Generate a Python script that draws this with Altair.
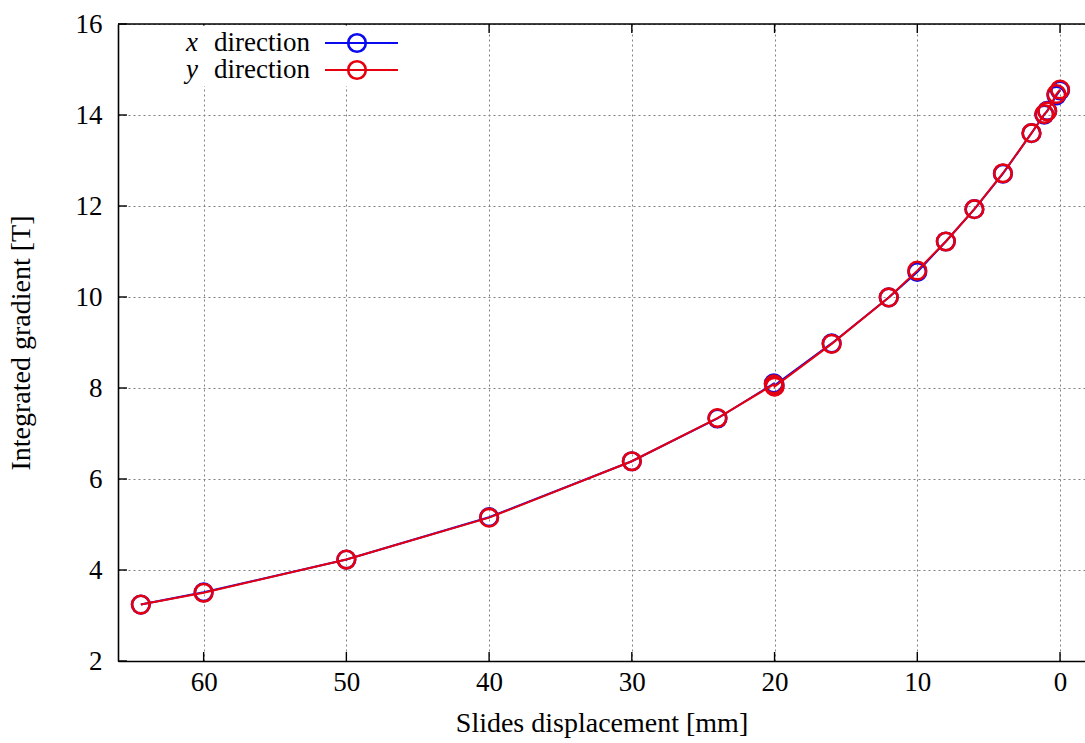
import altair as alt
import pandas as pd

# Slide displacement in mm, in measurement order
displacement = [64.4, 60.0, 50.0, 40.0, 30.0, 24.0, 20.05, 20.0, 16.0, 12.0,
                10.0, 8.0, 6.0, 4.0, 2.0, 1.1, 0.9, 0.25, 0.0]
# Integrated gradient [T] along x and y
grad_x = [3.24, 3.51, 4.23, 5.16, 6.39, 7.33, 8.10, 8.06, 8.98, 9.99,
          10.55, 11.22, 11.93, 12.71, 13.60, 14.01, 14.09, 14.43, 14.54]
grad_y = [3.24, 3.50, 4.23, 5.15, 6.39, 7.34, 8.08, 8.03, 8.97, 9.99,
          10.58, 11.22, 11.93, 12.72, 13.60, 14.02, 14.08, 14.46, 14.56]

x_ticks = [60, 50, 40, 30, 20, 10, 0]
y_ticks = [2, 4, 6, 8, 10, 12, 14, 16]

BLUE = "#0a0aee"
RED = "#e6000f"
FONT = "Liberation Serif"
W, H = 967, 637
TICK = 9

df = pd.DataFrame({
    "idx": list(range(len(displacement))),
    "d": displacement,
    "gx": grad_x,
    "gy": grad_y,
})

xscale = alt.Scale(domain=[66, -1.75], nice=False, zero=False)
yscale = alt.Scale(domain=[2, 16], nice=False, zero=False)

xaxis = alt.Axis(values=x_ticks, format="d", grid=True, gridDash=[2, 3],
                 gridColor="#808080", gridWidth=1, ticks=False,
                 domainColor="black", domainWidth=1.6,
                 labelFont=FONT, labelFontSize=27, labelColor="black",
                 labelPadding=8, title="Slides displacement [mm]",
                 titleFont=FONT, titleFontSize=28, titleFontWeight="normal",
                 titleColor="black", titlePadding=14)
yaxis = alt.Axis(values=y_ticks, format="d", grid=True, gridDash=[2, 3],
                 gridColor="#808080", gridWidth=1, ticks=False,
                 domainColor="black", domainWidth=1.6,
                 labelFont=FONT, labelFontSize=27, labelColor="black",
                 labelPadding=16, title="Integrated gradient [T]",
                 titleFont=FONT, titleFontSize=28, titleFontWeight="normal",
                 titleColor="black", titlePadding=40)


def X(field):
    return alt.X(field, scale=xscale, axis=xaxis)


def Y(field):
    return alt.Y(field, scale=yscale, axis=yaxis)


base = alt.Chart(df)

blue_line = base.mark_line(color=BLUE, strokeWidth=2).encode(
    x=X("d:Q"), y=Y("gx:Q"), order="idx:Q")
blue_pts = base.mark_point(shape="circle", filled=False, color=BLUE,
                           size=310, strokeWidth=2.6, opacity=1).encode(
    x=X("d:Q"), y=Y("gx:Q"))
red_line = base.mark_line(color=RED, strokeWidth=2).encode(
    x=X("d:Q"), y=Y("gy:Q"), order="idx:Q")
red_pts = base.mark_point(shape="circle", filled=False, color=RED,
                          size=310, strokeWidth=2.6, opacity=1).encode(
    x=X("d:Q"), y=Y("gy:Q"))

# Inward tick marks on the bottom, top and left borders
xt = alt.Chart(pd.DataFrame({"t": x_ticks}))
yt = alt.Chart(pd.DataFrame({"t": y_ticks}))
bottom_ticks = xt.mark_rule(color="black", strokeWidth=1.4).encode(
    x=X("t:Q"), y=alt.value(H), y2=alt.value(H - TICK))
top_ticks = xt.mark_rule(color="black", strokeWidth=1.4).encode(
    x=X("t:Q"), y=alt.value(0), y2=alt.value(TICK))
left_ticks = yt.mark_rule(color="black", strokeWidth=1.4).encode(
    y=Y("t:Q"), x=alt.value(0), x2=alt.value(TICK))
top_border = alt.Chart(pd.DataFrame({"a": [0]})).mark_rule(
    color="black", strokeWidth=1.6).encode(
    x=alt.value(0), x2=alt.value(W), y=alt.value(0))

# Key in the upper left corner, on an opaque background
key_bg = alt.Chart(pd.DataFrame({"a": [0]})).mark_rect(color="white").encode(
    x=alt.value(50), x2=alt.value(290), y=alt.value(1.5), y2=alt.value(62))
key = pd.DataFrame({
    "sym": ["x", "y"],
    "py": [19, 46],
    "c": [BLUE, RED],
    "x0": [207, 207],
    "x1": [280, 280],
    "xm": [239, 239],
})
kc = alt.Chart(key)
key_lines = kc.mark_rule(strokeWidth=2).encode(
    x=alt.X("x0:Q", scale=None), x2="x1:Q",
    y=alt.Y("py:Q", scale=None), color=alt.Color("c:N", scale=None))
key_pts = kc.mark_point(shape="circle", filled=False, size=310,
                        strokeWidth=2.6, opacity=1).encode(
    x=alt.X("xm:Q", scale=None), y=alt.Y("py:Q", scale=None),
    color=alt.Color("c:N", scale=None))
key_sym = kc.mark_text(font=FONT, fontSize=27, fontStyle="italic",
                       align="right", baseline="middle", color="black").encode(
    x=alt.value(80), y=alt.Y("py:Q", scale=None), text="sym:N")
key_word = kc.mark_text(font=FONT, fontSize=27, align="right",
                        baseline="middle", color="black").encode(
    x=alt.value(192), y=alt.Y("py:Q", scale=None), text=alt.value("direction"))

chart = alt.layer(
    blue_line, blue_pts, red_line, red_pts,
    bottom_ticks, top_ticks, left_ticks, top_border,
    key_bg, key_lines, key_pts, key_sym, key_word,
).properties(
    width=W, height=H,
    autosize="none",
    padding={"left": 118, "top": 24, "right": 0, "bottom": 82},
    background="white",
).configure_view(stroke=None)

chart.save("out.html", embed_options={"renderer": "svg", "actions": False})
